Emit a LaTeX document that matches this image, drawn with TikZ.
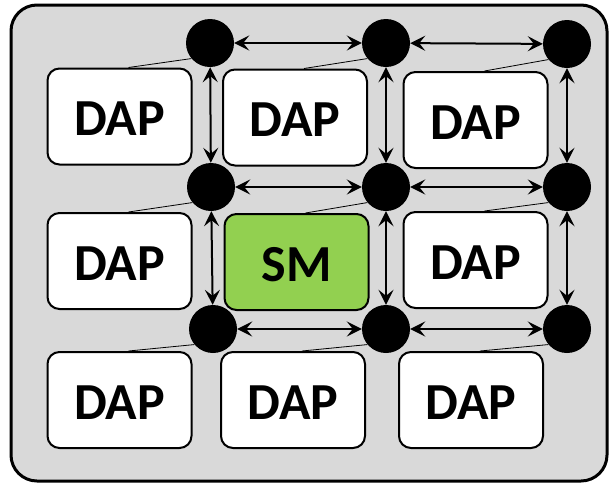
\documentclass[tikz,border=0pt]{standalone}
\usepackage{fontspec}
\setmainfont{Carlito}
\usetikzlibrary{arrows.meta,calc}

\definecolor{panelgray}{HTML}{D9D9D9}
\definecolor{smgreen}{HTML}{92D050}

\tikzset{
  panel/.style={draw=black, line width=3pt, fill=panelgray, rounded corners=26pt},
  unitbox/.style={draw=black, line width=2pt, fill=white, rounded corners=12pt,
    minimum width=144pt, minimum height=96pt, inner sep=0pt,
    text height=38pt, text depth=0pt,
    font=\fontsize{52}{60}\selectfont\bfseries},
  smbox/.style={unitbox, fill=smgreen},
  router/.style={circle, fill=black, draw=none, minimum size=48pt, inner sep=0pt},
  link/.style={line width=2pt, {Stealth[length=15pt,width=15pt,inset=6pt]}-{Stealth[length=15pt,width=15pt,inset=6pt]}},
  leader/.style={line width=0.8pt}
}

\begin{document}
\begin{tikzpicture}[x=1pt, y=-1pt]
  \useasboundingbox (0,0) rectangle (610,483);
  % outer panel
  \draw[panel] (11,5) rectangle (607,481);

  % processing units
  \node[unitbox] (d1) at (119.5,116.5) {DAP};
  \node[unitbox] (d2) at (295,117.5) {DAP};
  \node[unitbox] (d3) at (475.5,120) {DAP};
  \node[unitbox] (d4) at (119.5,261) {DAP};
  \node[smbox]   (sm) at (296.5,262) {SM};
  \node[unitbox] (d5) at (475.5,260) {DAP};
  \node[unitbox] (d6) at (119.5,400) {DAP};
  \node[unitbox] (d7) at (293,400) {DAP};
  \node[unitbox] (d8) at (471,400) {DAP};

  % routers
  \node[router] (r11) at (210,43) {};
  \node[router] (r12) at (386,43) {};
  \node[router] (r13) at (567,44) {};
  \node[router] (r21) at (211,187) {};
  \node[router] (r22) at (386,187) {};
  \node[router] (r23) at (567,187) {};
  \node[router] (r31) at (213,329) {};
  \node[router] (r32) at (386,329) {};
  \node[router] (r33) at (567,329) {};

  % router-to-unit attachments
  \foreach \r/\b in {r11/d1, r12/d2, r13/d3, r21/d4, r22/sm, r23/d5, r31/d6, r32/d7, r33/d8}
    \draw[leader] (\r.220) -- ($(\b.north)+(9,0)$);

  % mesh links
  \foreach \a/\b in {r11/r12, r12/r13, r21/r22, r22/r23, r31/r32, r32/r33,
                     r11/r21, r21/r31, r12/r22, r22/r32, r13/r23, r23/r33}
    \draw[link] (\a) -- (\b);
\end{tikzpicture}
\end{document}
